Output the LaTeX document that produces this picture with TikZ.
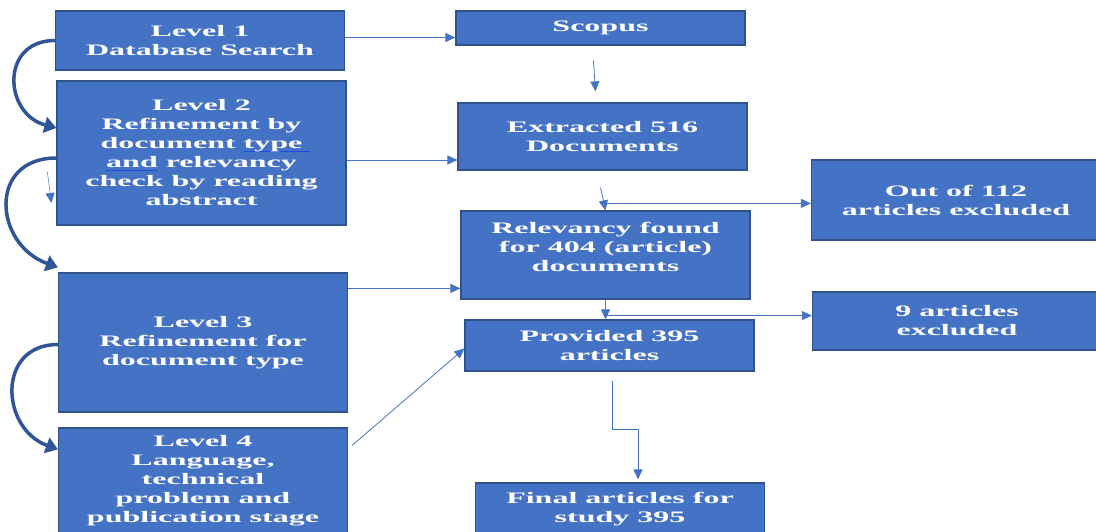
\documentclass[tikz,border=0pt]{standalone}
\usepackage{fontspec}
\setmainfont{Liberation Serif}[FakeStretch=2.0]
\usetikzlibrary{arrows.meta}
\definecolor{boxfill}{HTML}{4472C4}
\definecolor{boxline}{HTML}{2F528F}
\definecolor{curvecol}{HTML}{2F5597}
\definecolor{wavy}{HTML}{1E4BE6}
\newcommand\markword[2][0pt]{\setbox0\hbox{#2}\rlap{\color{wavy}\rule[-3pt]{\dimexpr\wd0+#1\relax}{1.3pt}}#2}

\begin{document}
\begin{tikzpicture}[x=1pt, y=-1pt,
  box/.style={draw=boxline, line width=1.2pt, fill=boxfill, text=white,
    font=\bfseries\fontsize{16}{19}\selectfont, align=center, inner sep=0pt,
    minimum width=289pt},
  thinarrow/.style={draw=boxfill, line width=0.8pt, -{Triangle[length=10pt,width=9pt]}},
  curvearrow/.style={draw=curvecol, line width=3.5pt, -{Triangle[length=12pt,width=16pt]}}]
\useasboundingbox (0,0) rectangle (1096,531);

% left column
\node[box, minimum height=59pt](L1) at (200,40.5) {Level 1\\ Database Search};
\node[box, minimum height=144pt](L2) at (201.5,153) {Level 2\\ Refinement by\\
  document \markword[8pt]{type}\\ \markword{and} relevancy\\
  check by reading\\ abstract};
\node[box, minimum height=139pt](L3) at (203,342.5) {Level 3\\ Refinement for\\ document type};
\node[box, minimum height=106pt](L4) at (203,481) {Level 4\\ Language,\\ technical\\
  problem and\\ publication stage};

% middle column
\node[box, minimum height=34pt](S) at (600.5,28) {Scopus};
\node[box, minimum height=67pt](E) at (602.5,136.5) {Extracted 516\\ Documents};
\node[box, minimum height=88pt, text depth=16pt](R) at (605.5,255) {Relevancy found\\
  for 404 (article)\\ documents};
\node[box, minimum height=51pt](P) at (609.5,345.5) {Provided 395\\ articles};
\node[box, minimum height=52pt](F) at (620,509) {Final articles for\\ study 395};

% right column
\node[box, minimum height=80pt](O) at (956,200) {Out of 112\\ articles excluded};
\node[box, minimum height=58pt](X) at (957,321) {9 articles\\ excluded};

% level to level
\draw[curvearrow] (L1.west) to[out=180, in=165, looseness=1.6] ([yshift=25pt]L2.west);
\draw[curvearrow] ([yshift=-5pt]L2.west) to[out=180, in=160, looseness=1.6] ([yshift=5pt]L3.north west);
\draw[curvearrow] ([yshift=-2pt]L3.west) to[out=180, in=160, looseness=1.5] ([yshift=-22pt]L4.north west);
\draw[thinarrow, line width=0.5pt] ([shift={(-9pt,-19pt)}]L2.west) -- ([shift={(-5pt,-50pt)}]L2.west);

% levels to middle column
\draw[thinarrow] ([yshift=3pt]L1.east) -- ([yshift=3pt]L1.east -| S.west);
\draw[thinarrow] ([yshift=-7pt]L2.east) -- ([yshift=-7pt]L2.east -| E.west);
\draw[thinarrow] ([yshift=-16pt]L3.north east) -- ([yshift=-16pt]L3.north east -| R.west);
\draw[thinarrow] ([shift={(4pt,-18pt)}]L4.north east) -- ([yshift=-3pt]P.west);

% down the middle
\draw[thinarrow] ([shift={(-7pt,-15pt)}]S.south) -- ([shift={(-7pt,11pt)}]E.north);
\draw[thinarrow] ([shift={(-2pt,-17pt)}]E.south) -- (R.north);
\draw[thinarrow] ([yshift=7pt]R.north) -- ([yshift=7pt]R.north -| O.west);
\draw[thinarrow] (R.south) -- (R.south |- P.north);
\draw[thinarrow] ([yshift=-16pt]R.south) -- ([yshift=-16pt]R.south -| X.west);
\draw[thinarrow] ([shift={(3pt,-9pt)}]P.south) |- ([shift={(18pt,53pt)}]F.north)
  -- ([shift={(18pt,3pt)}]F.north);

\end{tikzpicture}
\end{document}
